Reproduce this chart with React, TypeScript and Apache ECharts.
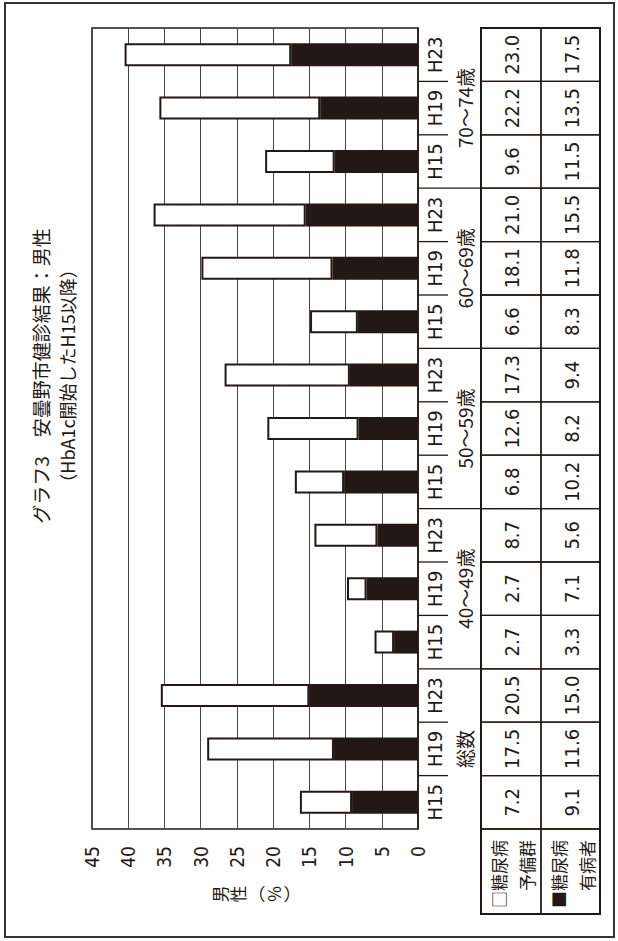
import React, { useEffect, useRef } from 'react';
import * as echarts from 'echarts';

// ---- data ----
const groups = ['総数', '40～49歳', '50～59歳', '60～69歳', '70～74歳'];
const years = ['H15', 'H19', 'H23', 'H15', 'H19', 'H23', 'H15', 'H19', 'H23', 'H15', 'H19', 'H23', 'H15', 'H19', 'H23'];
// 糖尿病予備群 (white)
const prediabetes = [7.2, 17.5, 20.5, 2.7, 2.7, 8.7, 6.8, 12.6, 17.3, 6.6, 18.1, 21.0, 9.6, 22.2, 23.0];
// 糖尿病有病者 (black)
const diabetes = [9.1, 11.6, 15.0, 3.3, 7.1, 5.6, 10.2, 8.2, 9.4, 8.3, 11.8, 15.5, 11.5, 13.5, 17.5];
const valueMin = 0;
const valueMax = 45;
const valueStep = 5;
const titleText = 'グラフ3　安曇野市健診結果：男性';
const subtitleText = '（HbA1c開始したH15以降）';
const axisNameText = '男\n性\n︵\n%\n︶';
const legendRows = [
  ['□糖尿病', '予備群'],
  ['■糖尿病', '有病者'],
];

// ---- layout (landscape canvas, rotated into the portrait page) ----
const W = 941;
const H = 618;
const INK = '#231815';
const NUM_FONT = "'Liberation Sans Narrow', 'DejaVu Sans Condensed', 'Liberation Sans', sans-serif";
const JP_FONT = "'Noto Sans CJK JP', sans-serif";
const GRID = { left: 112, right: 28, top: 92, bottom: 200 };
const AXIS_Y = H - GRID.bottom; // 418
const TABLE_TOP = 63; // offset below the category axis
const ROW1 = 60;
const ROW2 = 59;
const TICK_SHORT = 30;
const TABLE_LEFT = 27;
const TITLE_CENTER = 565;

export default function App() {
  const ref = useRef<HTMLDivElement>(null);

  useEffect(() => {
    if (!ref.current) return;
    const chart = echarts.init(ref.current, null, { renderer: 'svg', width: W, height: H });

    const tableData = years.map((_, i) => [i, prediabetes[i], diabetes[i]]);

    const option: any = {
      animation: false,
      backgroundColor: '#ffffff',
      title: [
        {
          text: titleText,
          left: TITLE_CENTER,
          textAlign: 'center',
          top: 31,
          padding: 0,
          textStyle: { fontFamily: JP_FONT, fontSize: 19, fontWeight: 'normal', color: INK },
        },
        {
          text: subtitleText,
          left: TITLE_CENTER,
          textAlign: 'center',
          top: 58,
          padding: 0,
          textStyle: { fontFamily: JP_FONT, fontSize: 18, fontWeight: 'normal', color: INK },
        },
      ],
      grid: {
        left: GRID.left,
        right: GRID.right,
        top: GRID.top,
        bottom: GRID.bottom,
        show: true,
        borderColor: INK,
        borderWidth: 1.5,
        backgroundColor: 'transparent',
      },
      xAxis: [
        {
          type: 'category',
          data: years,
          position: 'bottom',
          boundaryGap: true,
          axisLine: { show: true, lineStyle: { color: INK, width: 1.5 } },
          axisTick: { show: false },
          axisLabel: {
            interval: 0,
            margin: 7,
            fontSize: 20,
            fontFamily: NUM_FONT,
            color: INK,
          },
        },
        {
          type: 'category',
          data: groups,
          position: 'bottom',
          offset: 0,
          boundaryGap: true,
          axisLine: { show: false },
          axisTick: { show: false },
          axisLabel: {
            interval: 0,
            margin: 37,
            fontSize: 19,
            fontFamily: JP_FONT,
            color: INK,
          },
        },
      ],
      yAxis: {
        type: 'value',
        min: valueMin,
        max: valueMax,
        interval: valueStep,
        name: axisNameText,
        nameLocation: 'middle',
        nameRotate: 0,
        nameGap: 65,
        nameTextStyle: {
          fontFamily: JP_FONT,
          fontSize: 17,
          lineHeight: 18,
          color: INK,
          align: 'center',
          verticalAlign: 'middle',
          padding: [0, 0, 30, 0],
        },
        axisLine: { show: false },
        axisTick: { show: false },
        axisLabel: { margin: 17, fontSize: 19, fontFamily: NUM_FONT, color: INK },
        splitLine: { show: true, lineStyle: { color: '#4a4546', width: 1 } },
      },
      series: [
        {
          name: '糖尿病有病者',
          type: 'bar',
          stack: 'total',
          barWidth: 23,
          data: diabetes,
          itemStyle: { color: INK },
        },
        {
          name: '糖尿病予備群',
          type: 'bar',
          stack: 'total',
          barWidth: 23,
          data: prediabetes,
          itemStyle: { color: '#ffffff', borderColor: INK, borderWidth: 2 },
        },
        {
          name: 'table',
          type: 'custom',
          clip: false,
          silent: true,
          data: tableData,
          encode: { x: 0, y: 1 },
          renderItem: (params: any, api: any) => {
            const i = api.value(0);
            const base = api.coord([i, 0]);
            const band = api.size([1, 0])[0];
            const x0 = base[0] - band / 2;
            const y0 = base[1];
            const children: any[] = [];
            if (i > 0) {
              const long = i % 3 === 0;
              children.push({
                type: 'line',
                shape: { x1: x0, y1: y0, x2: x0, y2: y0 + (long ? TABLE_TOP : TICK_SHORT) },
                style: { stroke: INK, lineWidth: 1.3 },
              });
            }
            children.push({
              type: 'rect',
              shape: { x: x0, y: y0 + TABLE_TOP, width: band, height: ROW1 },
              style: { fill: 'none', stroke: INK, lineWidth: 1.3 },
            });
            children.push({
              type: 'rect',
              shape: { x: x0, y: y0 + TABLE_TOP + ROW1, width: band, height: ROW2 },
              style: { fill: 'none', stroke: INK, lineWidth: 1.3 },
            });
            children.push({
              type: 'text',
              x: base[0],
              y: y0 + TABLE_TOP + ROW1 / 2 + 1,
              style: {
                text: Number(api.value(1)).toFixed(1),
                align: 'center',
                verticalAlign: 'middle',
                fontSize: 20,
                fontFamily: NUM_FONT,
                fill: INK,
              },
            });
            children.push({
              type: 'text',
              x: base[0],
              y: y0 + TABLE_TOP + ROW1 + ROW2 / 2 + 1,
              style: {
                text: Number(api.value(2)).toFixed(1),
                align: 'center',
                verticalAlign: 'middle',
                fontSize: 20,
                fontFamily: NUM_FONT,
                fill: INK,
              },
            });
            return { type: 'group', children };
          },
        },
      ],
      graphic: [
        // outer frame
        {
          type: 'rect',
          shape: { x: 4, y: 5, width: 934, height: 609 },
          style: { fill: 'none', stroke: '#333333', lineWidth: 2 },
          silent: true,
        },
        // table outline
        {
          type: 'rect',
          shape: {
            x: TABLE_LEFT,
            y: AXIS_Y + TABLE_TOP,
            width: W - GRID.right - TABLE_LEFT,
            height: ROW1 + ROW2,
          },
          style: { fill: 'none', stroke: INK, lineWidth: 2 },
          silent: true,
        },
        // header cell
        {
          type: 'rect',
          shape: { x: TABLE_LEFT, y: AXIS_Y + TABLE_TOP, width: GRID.left - TABLE_LEFT, height: ROW1 },
          style: { fill: 'none', stroke: INK, lineWidth: 1.3 },
          silent: true,
        },
        {
          type: 'rect',
          shape: { x: TABLE_LEFT, y: AXIS_Y + TABLE_TOP + ROW1, width: GRID.left - TABLE_LEFT, height: ROW2 },
          style: { fill: 'none', stroke: INK, lineWidth: 1.3 },
          silent: true,
        },
        ...legendRows.flatMap((row, r) =>
          row.map((t, k) => ({
            type: 'text',
            x: GRID.left - 11,
            y: AXIS_Y + TABLE_TOP + r * ROW1 + (k === 0 ? 17 : 45),
            style: {
              text: t,
              align: 'right',
              verticalAlign: 'middle',
              fontSize: 17,
              fontFamily: JP_FONT,
              fill: INK,
            },
            silent: true,
          }))
        ),
      ],
    };

    chart.setOption(option);
    return () => chart.dispose();
  }, []);

  return (
    <div
      style={{
        position: 'fixed',
        left: 0,
        top: 0,
        width: 618,
        height: 941,
        overflow: 'hidden',
        background: '#ffffff',
      }}
    >
      <div
        ref={ref}
        style={{
          position: 'absolute',
          left: 0,
          top: 0,
          width: W,
          height: H,
          transformOrigin: '0 0',
          transform: `translate(0px, ${W}px) rotate(-90deg)`,
        }}
      />
    </div>
  );
}
